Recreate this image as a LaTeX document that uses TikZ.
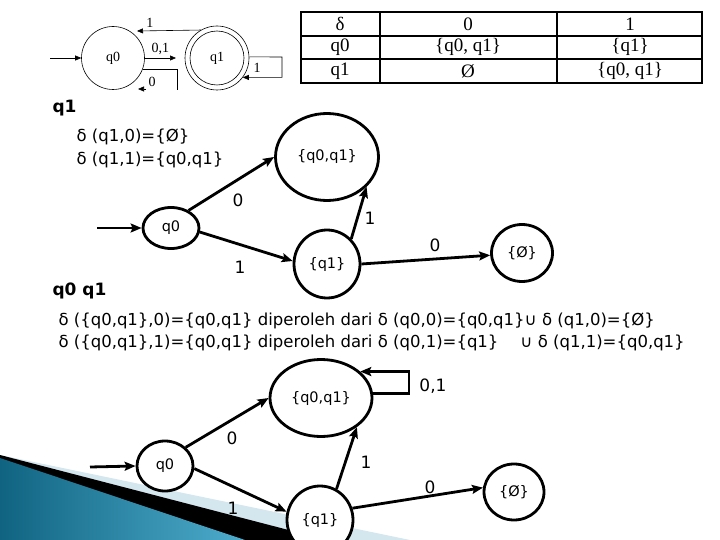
\documentclass[tikz,border=0pt]{standalone}
\usepackage{fontspec}
\setmainfont{Liberation Serif}
\setsansfont{DejaVu Sans}
\usetikzlibrary{arrows.meta,shapes.geometric}
\definecolor{tealdark}{RGB}{16,100,130}
\definecolor{teallight}{RGB}{78,172,204}
\definecolor{bandblue}{RGB}{212,230,238}

\tikzset{
  state/.style={draw, line width=2.8pt, ellipse, fill=white, inner sep=0pt,
    font=\sffamily\fontsize{14.5}{16}\selectfont},
  trans/.style={line width=2.8pt, -{Stealth[length=11pt,width=9pt,inset=2pt]}},
  elabel/.style={font=\sffamily\fontsize{17}{19}\selectfont},
  rowtext/.style={anchor=west, font=\sffamily\fontsize{16.5}{19}\selectfont},
  head/.style={anchor=west, font=\sffamily\bfseries\fontsize{17}{19}\selectfont},
  sstate/.style={draw, circle, line width=0.6pt, inner sep=0pt, font=\fontsize{14}{16}\selectfont},
  strans/.style={line width=0.6pt, -{Triangle[length=6pt,width=5pt]}},
  slabel/.style={font=\fontsize{14}{16}\selectfont},
  cell/.style={font=\fontsize{19}{21}\selectfont}
}

\begin{document}
\begin{tikzpicture}[x=1pt,y=-1pt]
  \useasboundingbox (0,0) rectangle (720,540);

  % slide decoration
  \fill[bandblue] (0,455) -- (410,540) -- (0,540) -- cycle;
  \fill[black] (0,455) -- (327,540) -- (0,540) -- cycle;
  \shade[left color=tealdark, right color=teallight] (0,458) -- (245,540) -- (0,540) -- cycle;

  % small automaton
  \node[sstate, minimum size=63pt] (sq0) at (113,58) {q0};
  \node[sstate, minimum size=64pt] (sq1) at (217,58) {};
  \node[sstate, minimum size=54pt] (sq1in) at (217,58) {q1};
  \coordinate (sin) at (50,58);
  \coordinate (sa) at (176,58);
  \draw[strans] (sin) -- (sq0.west);
  \draw[strans] (sq0.east) -- (sa) node[slabel, midway, above] {0,1};
  \draw[strans] (sq1.120) -- (137,31) node[slabel, pos=0.8, above] {1};
  \draw[line width=0.6pt] (sq0.-20) -| (177,90);
  \draw[strans] (146,89) -- (138,89);
  \node[slabel] (s0) at (152,82) {0};
  \draw[strans] (sq1.2) -- (282,57) |- (sq1.-37);
  \node[slabel] (s1) at (257,68) {1};

  % transition table
  \draw[line width=1.5pt] (301,12) rectangle (702,83);
  \foreach \y in {36,59} \draw[line width=1.5pt] (301,\y) -- (702,\y);
  \foreach \x in {380,557} \draw[line width=1.5pt] (\x,12) -- (\x,83);
  \node[cell] (t00) at (340,24) {δ};
  \node[cell] (t01) at (468,24) {0};
  \node[cell] (t02) at (630,24) {1};
  \node[cell] (t10) at (340,47) {q0};
  \node[cell] (t11) at (468,47) {\{q0, q1\}};
  \node[cell] (t12) at (630,47) {\{q1\}};
  \node[cell] (t20) at (340,71) {q1};
  \node[cell] (t21) at (468,71) {Ø};
  \node[cell] (t22) at (630,71) {\{q0, q1\}};

  % first step
  \node[head] (hq1) at (49,108) {q1};
  \node[rowtext] (dA) at (73,137) {δ (q1,0)=\{Ø\}};
  \node[rowtext] (dB) at (73,160) {δ (q1,1)=\{q0,q1\}};

  \node[state, minimum width=56pt, minimum height=41pt] (mq0) at (171,228) {q0};
  \node[state, minimum width=103pt, minimum height=87pt] (mq01) at (327,157) {\{q0,q1\}};
  \node[state, minimum width=66pt, minimum height=68pt] (mq1) at (327,264) {\{q1\}};
  \node[state, minimum width=61pt, minimum height=57pt] (mempty) at (522,253) {\{Ø\}};
  \coordinate (min) at (97,228);
  \draw[trans] (min) -- (mq0.west);
  \draw[trans] (mq0.45) -- (mq01.west);
  \draw[trans] (mq0.-8) -- (mq1.175);
  \draw[trans] (mq1.46) -- (mq01.-37);
  \draw[trans] (mq1.east) -- (mempty.184);
  \node[elabel] (m0a) at (238,200) {0};
  \node[elabel] (m1a) at (240,267) {1};
  \node[elabel] (m1b) at (370,218) {1};
  \node[elabel] (m0b) at (435,245) {0};

  % second step
  \node[head] (hq0q1) at (49,291) {q0 q1};
  \node[rowtext] (dC) at (55,321) {δ (\{q0,q1\},0)=\{q0,q1\} diperoleh dari δ (q0,0)=\{q0,q1\}∪ δ (q1,0)=\{Ø\}};
  \node[rowtext] (dD) at (55,343) {δ (\{q0,q1\},1)=\{q0,q1\} diperoleh dari δ (q0,1)=\{q1\}\hspace{22pt}∪ δ (q1,1)=\{q0,q1\}};

  \node[state, minimum width=56pt, minimum height=50pt] (bq0) at (165,466) {q0};
  \node[state, minimum width=102pt, minimum height=77pt] (bq01) at (321,398) {\{q0,q1\}};
  \node[state, minimum width=66pt, minimum height=68pt] (bq1) at (320,520) {\{q1\}};
  \node[state, minimum width=60pt, minimum height=56pt] (bempty) at (514,492) {\{Ø\}};
  \coordinate (bin) at (90,467);
  \draw[trans] (bin) -- (bq0.west);
  \draw[trans] (bq0.42) -- (bq01.west);
  \draw[trans] (bq0.-5) -- (bq1.166);
  \draw[trans] (bq1.62) -- (bq01.-39);
  \draw[trans] (bq1.20) -- (bempty.172);
  \draw[trans] (bq01.5) -- ++(36,0) |- (bq01.34);
  \node[elabel] (b0a) at (232,438) {0};
  \node[elabel] (b1a) at (233,508) {1};
  \node[elabel] (b1b) at (366,462) {1};
  \node[elabel] (b0b) at (430,487) {0};
  \node[elabel] (b01) at (433,386) {0,1};
\end{tikzpicture}
\end{document}
